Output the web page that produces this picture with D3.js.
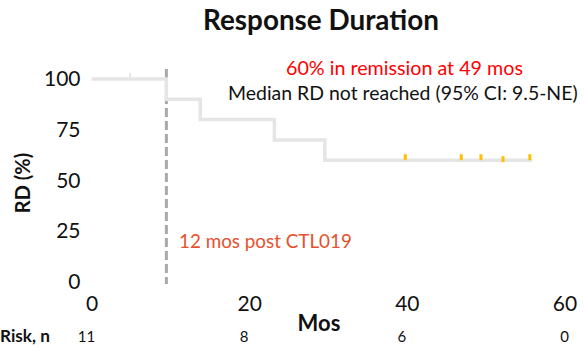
<!DOCTYPE html>
<html>
<head>
<meta charset="utf-8">
<script src="https://cdn.jsdelivr.net/npm/d3@7"></script>
<style>
  html, body { margin: 0; padding: 0; background: #fff; }
  svg { display: block; font-family: Lato, "Open Sans", sans-serif; }
</style>
</head>
<body>
<svg id="chart" width="584" height="347"></svg>
<script>
// Kaplan-Meier response duration: step times (months) and survival (%)
const stepTimes = [0, 9.5, 13.8, 23.2, 29.6];
const stepValues = [100, 90, 80, 70, 60];
const followUpEnd = 55.9;
// censored observations
const censorEarly = [4.9];          // at 100%
const censorLate = [39.8, 46.9, 49.4, 52.2, 55.6]; // at 60%
const landmark = 9.5;               // dashed reference line
const xTicks = [0, 20, 40, 60];
const yTicks = [0, 25, 50, 75, 100];
const riskTimes = [0, 20, 40, 60];
const riskCounts = [11, 8, 6, 0];

const svg = d3.select("#chart");
const x = d3.scaleLinear().domain([0, 60]).range([91.5, 564.5]);
const y = d3.scaleLinear().domain([0, 100]).range([282, 79]);

// scale a text element's font size so it spans a given width
function fit(sel, width) {
  const node = sel.node();
  const size = parseFloat(sel.attr("font-size"));
  const len = node.getComputedTextLength();
  sel.attr("font-size", (size * width / len).toFixed(2));
  return sel;
}

// title
fit(svg.append("text")
  .attr("x", 203).attr("y", 30)
  .attr("font-size", 28).attr("font-weight", 700).attr("fill", "#111")
  .text("Response Duration"), 236);

// y axis
const yAxis = svg.append("g")
  .attr("transform", `translate(${x(0) - 11},0)`)
  .call(d3.axisLeft(y).tickValues(yTicks).tickSize(0).tickPadding(0));
yAxis.select(".domain").remove();
yAxis.selectAll("text")
  .attr("font-family", "Lato, 'Open Sans', sans-serif")
  .attr("font-size", 21).attr("fill", "#111");

svg.append("text")
  .attr("transform", "translate(30,183) rotate(-90)")
  .attr("text-anchor", "middle")
  .attr("font-size", 20).attr("font-weight", 700).attr("fill", "#111")
  .text("RD (%)");

// x axis
const xAxis = svg.append("g")
  .attr("transform", `translate(0,${y(0)})`)
  .call(d3.axisBottom(x).tickValues(xTicks).tickSize(0));
xAxis.select(".domain").remove();
xAxis.selectAll("text")
  .attr("font-family", "Lato, 'Open Sans', sans-serif")
  .attr("font-size", 21).attr("fill", "#111")
  .attr("y", 29).attr("dy", 0);

svg.append("text")
  .attr("x", 319).attr("y", 331)
  .attr("text-anchor", "middle")
  .attr("font-size", 22).attr("font-weight", 700).attr("fill", "#111")
  .text("Mos");

// number at risk
fit(svg.append("text")
  .attr("x", 0).attr("y", 342)
  .attr("font-size", 16).attr("font-weight", 700).attr("fill", "#111")
  .text("Risk, n"), 50);
svg.append("g").selectAll("text")
  .data(riskTimes.map((t, i) => ({ t, n: riskCounts[i] })))
  .join("text")
  .attr("x", d => x(d.t) - (d.t === 60 ? 0 : 5))
  .attr("y", 342)
  .attr("text-anchor", "middle")
  .attr("font-size", 15).attr("fill", "#111")
  .text(d => d.n);

// dashed landmark line
svg.append("line")
  .attr("x1", x(landmark)).attr("x2", x(landmark))
  .attr("y1", 69).attr("y2", 284)
  .attr("stroke", "#a9a9a9").attr("stroke-width", 3)
  .attr("stroke-dasharray", "9,4");

// step curve
const pts = stepTimes.map((t, i) => [t, stepValues[i]]);
pts.push([followUpEnd, stepValues[stepValues.length - 1]]);
const line = d3.line()
  .x(d => x(d[0])).y(d => y(d[1]))
  .curve(d3.curveStepAfter);
svg.append("path")
  .attr("d", line(pts))
  .attr("fill", "none")
  .attr("stroke", "#e5e5e5").attr("stroke-width", 3.5);

// censor marks
svg.append("g").selectAll("line")
  .data(censorEarly)
  .join("line")
  .attr("x1", d => x(d)).attr("x2", d => x(d))
  .attr("y1", y(100) - 6).attr("y2", y(100))
  .attr("stroke", "#e5e5e5").attr("stroke-width", 2);
svg.append("g").selectAll("line")
  .data(censorLate)
  .join("line")
  .attr("x1", d => x(d)).attr("x2", d => x(d))
  .attr("y1", (d, i) => y(60) - 6 + (i === 3 ? 2 : 0))
  .attr("y2", (d, i) => y(60) + (i === 3 ? 2 : 0))
  .attr("stroke", "#ffc000").attr("stroke-width", 3);

// annotations
fit(svg.append("text")
  .attr("x", 286).attr("y", 75)
  .attr("font-size", 18).attr("fill", "#ff0000")
  .text("60% in remission at 49 mos"), 237);
fit(svg.append("text")
  .attr("x", 228).attr("y", 100)
  .attr("font-size", 17).attr("fill", "#111")
  .text("Median RD not reached (95% CI: 9.5-NE)"), 350);
fit(svg.append("text")
  .attr("x", 179).attr("y", 248)
  .attr("font-size", 17).attr("fill", "#e8502c")
  .text("12 mos post CTL019"), 173);
</script>
</body>
</html>
